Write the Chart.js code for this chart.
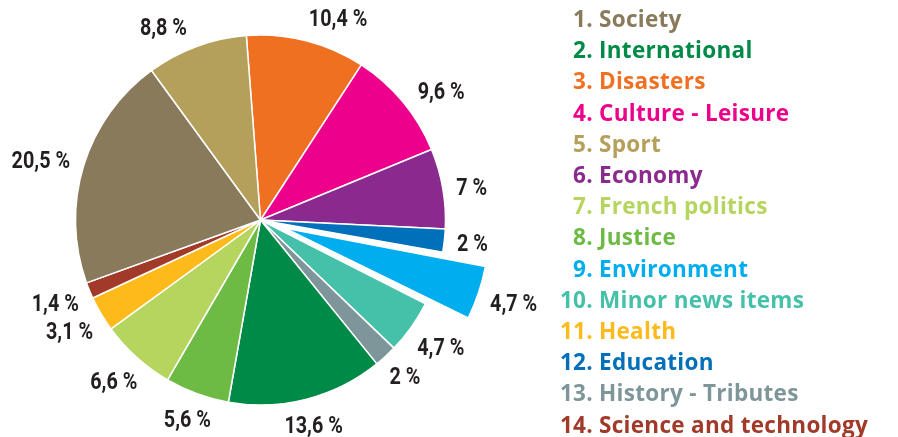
<!DOCTYPE html>
<html>
<head>
<meta charset="utf-8">
<title>News topics</title>
<script src="https://cdn.jsdelivr.net/npm/chart.js@4.4.1/dist/chart.umd.min.js"></script>
<style>
  html, body { margin: 0; padding: 0; background: #fff; }
  #wrap { width: 898px; height: 437px; position: relative; }
</style>
</head>
<body>
<div id="wrap"><canvas id="newsChart"></canvas></div>
<script>
// slices, clockwise from the top
const categories = [
  "Disasters", "Culture - Leisure", "Economy", "Education", "Environment",
  "Minor news items", "History - Tributes", "International", "Justice",
  "French politics", "Health", "Science and technology", "Society", "Sport"
];
const shares = [10.4, 9.6, 7, 2, 4.7, 4.7, 2, 13.6, 5.6, 6.6, 3.1, 1.4, 20.5, 8.8];
// position of each topic in the list on the right
const ranks = [3, 4, 6, 12, 9, 10, 13, 2, 8, 7, 11, 14, 1, 5];
const highlighted = "Environment";

const sliceColors = [
  "#f07022", "#ec008c", "#8b2a8e", "#0070ba", "#00aeef",
  "#45c1aa", "#7e959a", "#008a47", "#6dbb45",
  "#b5d55e", "#fdba1a", "#a23a2a", "#8a7a5c", "#b4a05a"
];

const canvas = document.getElementById("newsChart");
let newsChart = null;

function formatShare(v) {
  return String(v).replace(".", ",") + " %";
}

const shareLabels = {
  id: "shareLabels",
  afterDatasetsDraw(chart) {
    const ctx = chart.ctx;
    const meta = chart.getDatasetMeta(0);
    ctx.save();
    ctx.font = "bold 23px Roboto";
    ctx.fillStyle = "#231f20";
    ctx.textAlign = "center";
    ctx.textBaseline = "middle";
    meta.data.forEach((arc, i) => {
      const p = arc.getProps(["x", "y", "startAngle", "endAngle", "outerRadius"], true);
      let mid = (p.startAngle + p.endAngle) / 2;
      // fan the upper labels out a little so they do not crowd the top
      const fan = (7 * Math.PI) / 180;
      mid += fan * Math.sign(Math.cos(mid)) * Math.max(-Math.sin(mid), 0);
      const text = formatShare(shares[i]);
      const w = ctx.measureText(text).width * 0.86;
      const h = 17;
      // how far chart.js pushes an offset arc outwards
      const o = (arc.options.offset || 0) / 4;
      const fix = 1 - Math.sin(Math.min(Math.PI, p.endAngle - p.startAngle));
      const off = o * (1 + fix);
      const dist = p.outerRadius + off + 12 +
        Math.abs(Math.cos(mid)) * w / 2 + Math.abs(Math.sin(mid)) * h / 2;
      ctx.save();
      ctx.translate(p.x + Math.cos(mid) * dist, p.y + Math.sin(mid) * dist);
      ctx.scale(0.86, 1);
      ctx.fillText(text, 0, 1);
      ctx.restore();
    });
    ctx.restore();
  }
};

const rankLegend = {
  id: "rankLegend",
  afterDraw(chart) {
    const ctx = chart.ctx;
    const order = ranks.map((r, i) => i).sort((a, b) => ranks[a] - ranks[b]);
    ctx.save();
    ctx.font = "bold 22.5px 'Open Sans'";
    ctx.letterSpacing = "0.3px";
    ctx.textBaseline = "alphabetic";
    order.forEach((i, row) => {
      const y = 27 + row * 31.2;
      ctx.fillStyle = sliceColors[i];
      ctx.textAlign = "right";
      ctx.fillText(ranks[i] + ".", 593, y);
      ctx.textAlign = "left";
      ctx.fillText(categories[i], 599, y);
    });
    ctx.restore();
  }
};

function renderChart() {
  newsChart = new Chart(canvas, {
    type: "pie",
    data: {
      labels: categories,
      datasets: [
        {
          data: shares,
          backgroundColor: sliceColors,
          borderColor: "#ffffff",
          borderWidth: 1.5,
          offset: categories.map((c) => (c === highlighted ? 105 : 0)),
          radius: 185,
        },
      ],
    },
    options: {
      responsive: true,
      maintainAspectRatio: false,
      animation: false,
      rotation: -4.4,
      layout: { padding: { left: 0, right: 377, top: 3, bottom: 0 } },
      plugins: {
        legend: { display: false },
        tooltip: { enabled: false },
      },
    },
    plugins: [shareLabels, rankLegend],
  });
}

renderChart();
</script>
</body>
</html>
